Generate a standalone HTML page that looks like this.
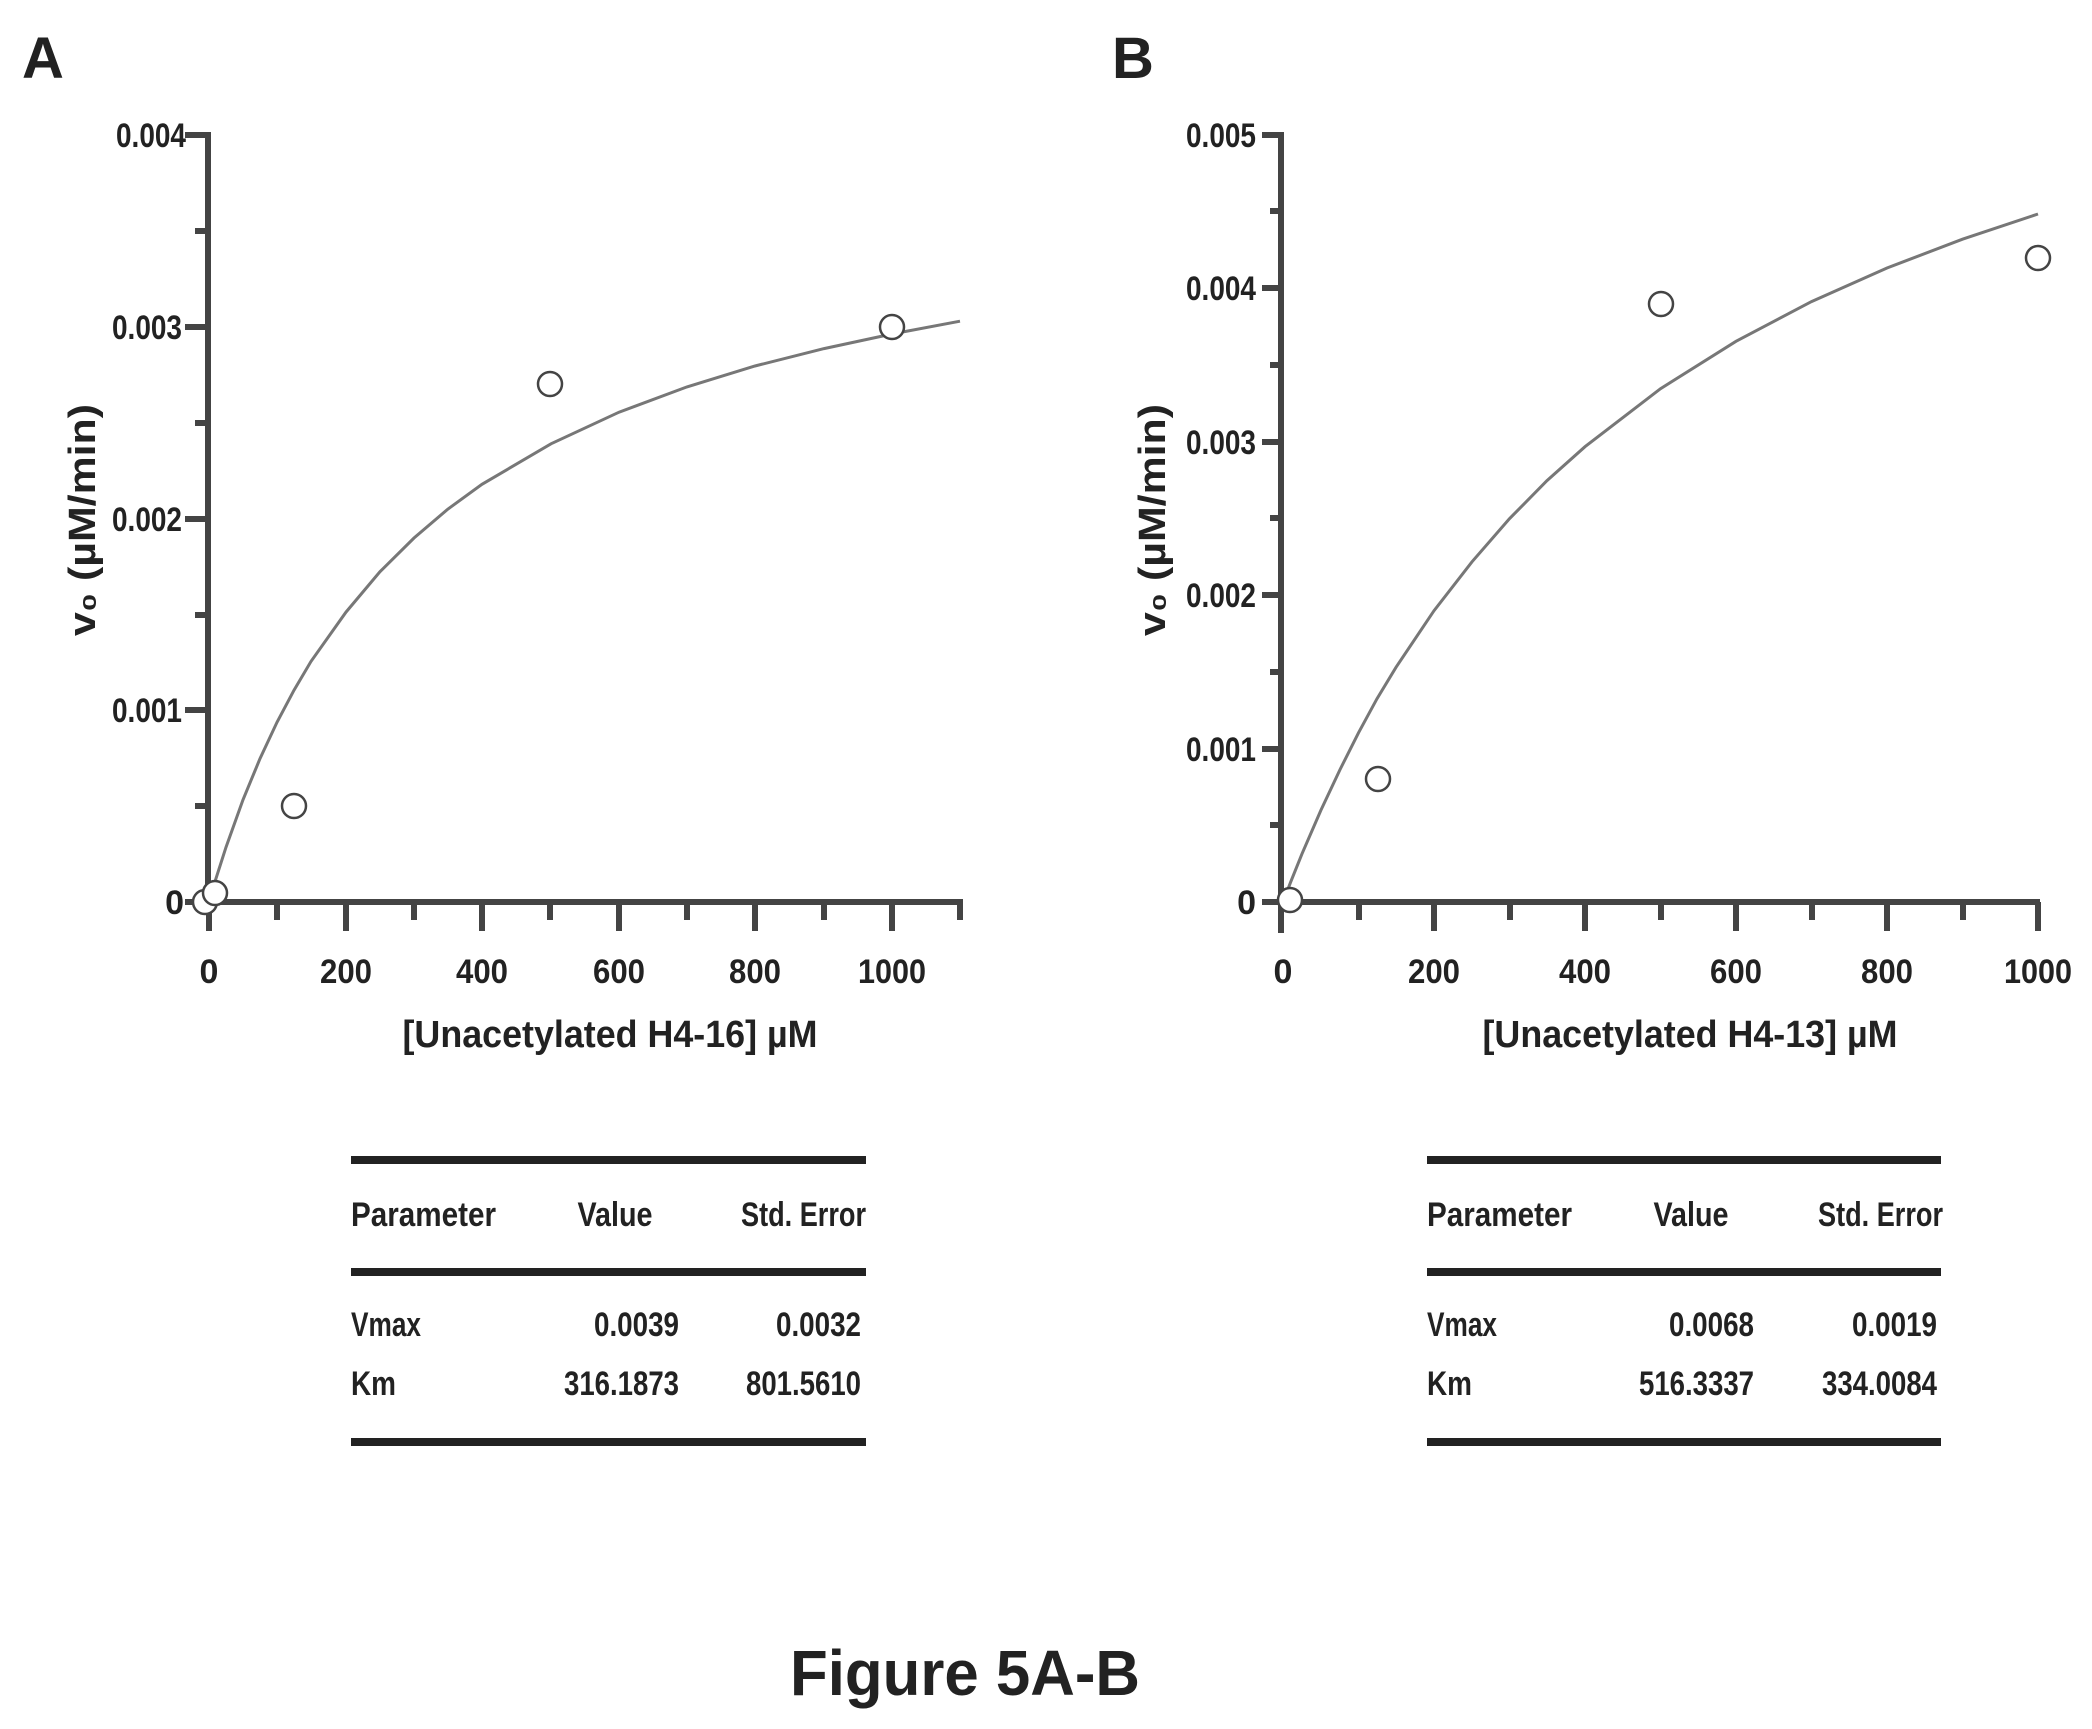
<!DOCTYPE html>
<html><head><meta charset="utf-8"><style>
html,body{margin:0;padding:0;background:#fff;}
svg{display:block;}
text{font-family:"Liberation Sans",sans-serif;fill:#222;}
.tk{font-size:34px;font-weight:bold;}
.ttl{font-size:38px;font-weight:bold;}
.tb{font-size:34px;font-weight:bold;}
</style></head><body>
<svg width="2092" height="1729" viewBox="0 0 2092 1729" xmlns="http://www.w3.org/2000/svg">
<text x="22" y="78" style="font-size:58px;font-weight:bold">A</text>
<text x="1112" y="78" style="font-size:58px;font-weight:bold">B</text>

<g stroke="#444" stroke-width="6" fill="none">
<line x1="208" y1="132" x2="208" y2="905"/>
<line x1="205" y1="902" x2="963" y2="902"/>
<line x1="185" y1="135" x2="208" y2="135"/>
<line x1="185" y1="327" x2="208" y2="327"/>
<line x1="185" y1="519" x2="208" y2="519"/>
<line x1="185" y1="710" x2="208" y2="710"/>
<line x1="185" y1="902" x2="208" y2="902"/>
<line x1="195" y1="231" x2="208" y2="231"/>
<line x1="195" y1="423" x2="208" y2="423"/>
<line x1="195" y1="615" x2="208" y2="615"/>
<line x1="195" y1="806" x2="208" y2="806"/>
<line x1="209" y1="902" x2="209" y2="931"/>
<line x1="277" y1="902" x2="277" y2="920"/>
<line x1="346" y1="902" x2="346" y2="931"/>
<line x1="414" y1="902" x2="414" y2="920"/>
<line x1="482" y1="902" x2="482" y2="931"/>
<line x1="550" y1="902" x2="550" y2="920"/>
<line x1="619" y1="902" x2="619" y2="931"/>
<line x1="687" y1="902" x2="687" y2="920"/>
<line x1="755" y1="902" x2="755" y2="931"/>
<line x1="824" y1="902" x2="824" y2="920"/>
<line x1="892" y1="902" x2="892" y2="931"/>
<line x1="960" y1="902" x2="960" y2="920"/>
</g>
<g text-anchor="end">
<text class="tk" x="186" y="147" textLength="70" lengthAdjust="spacingAndGlyphs">0.004</text>
<text class="tk" x="182" y="339" textLength="70" lengthAdjust="spacingAndGlyphs">0.003</text>
<text class="tk" x="182" y="531" textLength="70" lengthAdjust="spacingAndGlyphs">0.002</text>
<text class="tk" x="182" y="722" textLength="70" lengthAdjust="spacingAndGlyphs">0.001</text>
<text class="tk" x="184" y="914">0</text>
</g>
<g text-anchor="middle">
<text class="tk" x="209" y="983">0</text>
<text class="tk" x="346" y="983" textLength="52" lengthAdjust="spacingAndGlyphs">200</text>
<text class="tk" x="482" y="983" textLength="52" lengthAdjust="spacingAndGlyphs">400</text>
<text class="tk" x="619" y="983" textLength="52" lengthAdjust="spacingAndGlyphs">600</text>
<text class="tk" x="755" y="983" textLength="52" lengthAdjust="spacingAndGlyphs">800</text>
<text class="tk" x="892" y="983" textLength="68" lengthAdjust="spacingAndGlyphs">1000</text>
<text class="ttl" x="610" y="1047" textLength="415" lengthAdjust="spacingAndGlyphs">[Unacetylated H4-16] µM</text>
<text class="ttl" transform="translate(95,520) rotate(-90)" textLength="232" lengthAdjust="spacingAndGlyphs">v₀ (µM/min)</text>
</g>
<path d="M209,902 L215.8,879.1 L226,847.2 L243,799.8 L260,758.6 L277,722.3 L294,690.2 L311,661.4 L346,612.1 L380,571.7 L414,538 L448,509 L482,484.3 L551,443.8 L619,412.2 L687,386.9 L755,366 L824,348.6 L892,334 L960,321.2" fill="none" stroke="#777" stroke-width="3"/>
<g fill="#fff" stroke="#444" stroke-width="2.5">
<circle cx="205" cy="902" r="12"/>
<circle cx="215" cy="893" r="12"/>
<circle cx="294" cy="806" r="12"/>
<circle cx="550" cy="384" r="12"/>
<circle cx="892" cy="327" r="12"/>
</g>

<g stroke="#444" stroke-width="6" fill="none">
<line x1="1281" y1="132" x2="1281" y2="933"/>
<line x1="1278" y1="902" x2="2040" y2="902"/>
<line x1="1262" y1="135" x2="1281" y2="135"/>
<line x1="1262" y1="288" x2="1281" y2="288"/>
<line x1="1262" y1="442" x2="1281" y2="442"/>
<line x1="1262" y1="595" x2="1281" y2="595"/>
<line x1="1262" y1="749" x2="1281" y2="749"/>
<line x1="1262" y1="902" x2="1281" y2="902"/>
<line x1="1270" y1="211" x2="1281" y2="211"/>
<line x1="1270" y1="365" x2="1281" y2="365"/>
<line x1="1270" y1="518" x2="1281" y2="518"/>
<line x1="1270" y1="672" x2="1281" y2="672"/>
<line x1="1270" y1="825" x2="1281" y2="825"/>
<line x1="1359" y1="902" x2="1359" y2="920"/>
<line x1="1434" y1="902" x2="1434" y2="931"/>
<line x1="1510" y1="902" x2="1510" y2="920"/>
<line x1="1585" y1="902" x2="1585" y2="931"/>
<line x1="1661" y1="902" x2="1661" y2="920"/>
<line x1="1736" y1="902" x2="1736" y2="931"/>
<line x1="1812" y1="902" x2="1812" y2="920"/>
<line x1="1887" y1="902" x2="1887" y2="931"/>
<line x1="1963" y1="902" x2="1963" y2="920"/>
<line x1="2038" y1="902" x2="2038" y2="931"/>
</g>
<g text-anchor="end">
<text class="tk" x="1256" y="147" textLength="70" lengthAdjust="spacingAndGlyphs">0.005</text>
<text class="tk" x="1256" y="300" textLength="70" lengthAdjust="spacingAndGlyphs">0.004</text>
<text class="tk" x="1256" y="454" textLength="70" lengthAdjust="spacingAndGlyphs">0.003</text>
<text class="tk" x="1256" y="607" textLength="70" lengthAdjust="spacingAndGlyphs">0.002</text>
<text class="tk" x="1256" y="761" textLength="70" lengthAdjust="spacingAndGlyphs">0.001</text>
<text class="tk" x="1256" y="914">0</text>
</g>
<g text-anchor="middle">
<text class="tk" x="1283" y="983">0</text>
<text class="tk" x="1434" y="983" textLength="52" lengthAdjust="spacingAndGlyphs">200</text>
<text class="tk" x="1585" y="983" textLength="52" lengthAdjust="spacingAndGlyphs">400</text>
<text class="tk" x="1736" y="983" textLength="52" lengthAdjust="spacingAndGlyphs">600</text>
<text class="tk" x="1887" y="983" textLength="52" lengthAdjust="spacingAndGlyphs">800</text>
<text class="tk" x="2038" y="983" textLength="68" lengthAdjust="spacingAndGlyphs">1000</text>
<text class="ttl" x="1690" y="1047" textLength="415" lengthAdjust="spacingAndGlyphs">[Unacetylated H4-13] µM</text>
<text class="ttl" transform="translate(1165,520) rotate(-90)" textLength="232" lengthAdjust="spacingAndGlyphs">v₀ (µM/min)</text>
</g>
<path d="M1283,902 L1290.6,882.2 L1302,853.8 L1321,810 L1340,769.6 L1358.5,732.8 L1377,698.7 L1396,667.3 L1434,610.7 L1472,561.8 L1509.5,518.7 L1547,480.6 L1585,446.7 L1660.5,388.7 L1736,341.3 L1811.5,301.6 L1887,268 L1962.5,239.2 L2038,214" fill="none" stroke="#777" stroke-width="3"/>
<g fill="#fff" stroke="#444" stroke-width="2.5">
<circle cx="1290" cy="900" r="12"/>
<circle cx="1378" cy="779" r="12"/>
<circle cx="1661" cy="304" r="12"/>
<circle cx="2038" cy="258" r="12"/>
</g>

<g stroke="#222" stroke-width="8">
<line x1="351" y1="1160" x2="866" y2="1160"/>
<line x1="351" y1="1272" x2="866" y2="1272"/>
<line x1="351" y1="1442" x2="866" y2="1442"/>
<line x1="1427" y1="1160" x2="1941" y2="1160"/>
<line x1="1427" y1="1272" x2="1941" y2="1272"/>
<line x1="1427" y1="1442" x2="1941" y2="1442"/>
</g>
<text class="tb" x="351" y="1226" textLength="145" lengthAdjust="spacingAndGlyphs">Parameter</text>
<text class="tb" x="615" y="1226" text-anchor="middle" textLength="75" lengthAdjust="spacingAndGlyphs">Value</text>
<text class="tb" x="866" y="1226" text-anchor="end" textLength="125" lengthAdjust="spacingAndGlyphs">Std. Error</text>
<text class="tb" x="351" y="1336" textLength="70" lengthAdjust="spacingAndGlyphs">Vmax</text>
<text class="tb" x="679" y="1336" text-anchor="end" textLength="85" lengthAdjust="spacingAndGlyphs">0.0039</text>
<text class="tb" x="861" y="1336" text-anchor="end" textLength="85" lengthAdjust="spacingAndGlyphs">0.0032</text>
<text class="tb" x="351" y="1395" textLength="45" lengthAdjust="spacingAndGlyphs">Km</text>
<text class="tb" x="679" y="1395" text-anchor="end" textLength="115" lengthAdjust="spacingAndGlyphs">316.1873</text>
<text class="tb" x="861" y="1395" text-anchor="end" textLength="115" lengthAdjust="spacingAndGlyphs">801.5610</text>

<text class="tb" x="1427" y="1226" textLength="145" lengthAdjust="spacingAndGlyphs">Parameter</text>
<text class="tb" x="1691" y="1226" text-anchor="middle" textLength="75" lengthAdjust="spacingAndGlyphs">Value</text>
<text class="tb" x="1943" y="1226" text-anchor="end" textLength="125" lengthAdjust="spacingAndGlyphs">Std. Error</text>
<text class="tb" x="1427" y="1336" textLength="70" lengthAdjust="spacingAndGlyphs">Vmax</text>
<text class="tb" x="1754" y="1336" text-anchor="end" textLength="85" lengthAdjust="spacingAndGlyphs">0.0068</text>
<text class="tb" x="1937" y="1336" text-anchor="end" textLength="85" lengthAdjust="spacingAndGlyphs">0.0019</text>
<text class="tb" x="1427" y="1395" textLength="45" lengthAdjust="spacingAndGlyphs">Km</text>
<text class="tb" x="1754" y="1395" text-anchor="end" textLength="115" lengthAdjust="spacingAndGlyphs">516.3337</text>
<text class="tb" x="1937" y="1395" text-anchor="end" textLength="115" lengthAdjust="spacingAndGlyphs">334.0084</text>

<text x="965" y="1695" text-anchor="middle" style="font-size:64px;font-weight:bold" textLength="350" lengthAdjust="spacingAndGlyphs">Figure 5A-B</text>
</svg>
</body></html>
